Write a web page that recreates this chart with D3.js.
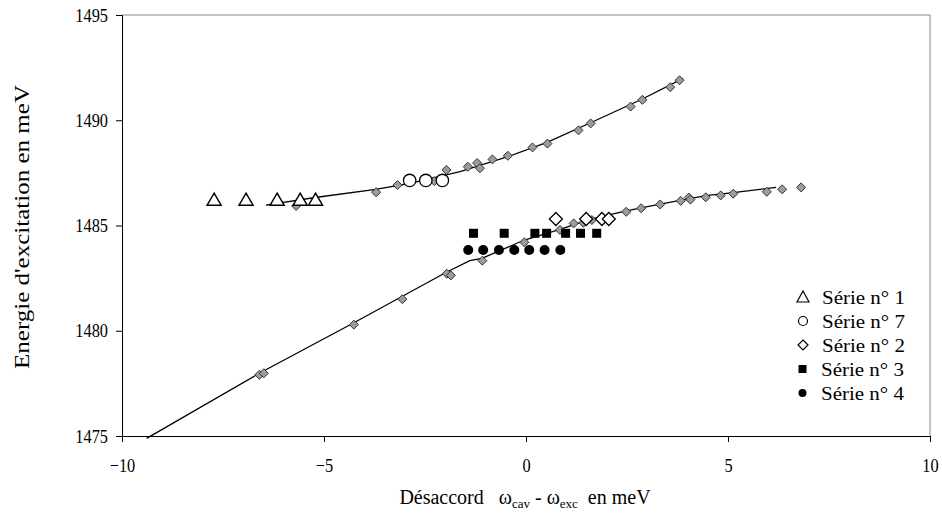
<!DOCTYPE html>
<html><head><meta charset="utf-8">
<script src="https://cdn.jsdelivr.net/npm/d3@7/dist/d3.min.js"></script>
<style>
body{margin:0;background:#fff;}
text{font-family:"Liberation Serif","Times New Roman",serif;}
</style></head>
<body><svg id="c" width="942" height="523"></svg>
<script>
// ---- data ----
const xTicks = [-10, -5, 0, 5, 10];
const yTicks = [1475, 1480, 1485, 1490, 1495];

const serie1X = [-7.72, -6.93, -6.16, -5.59, -5.21];
const serie1Y = [1486.2, 1486.2, 1486.2, 1486.2, 1486.2];

const serie7X = [-2.88, -2.48, -2.07];
const serie7Y = [1487.14, 1487.14, 1487.14];

const serie2X = [0.74, 1.49, 1.88, 2.05];
const serie2Y = [1485.31, 1485.31, 1485.31, 1485.31];

const serie3X = [-1.30, -0.54, 0.22, 0.51, 0.98, 1.35, 1.75];
const serie3Y = [1484.63, 1484.63, 1484.63, 1484.63, 1484.63, 1484.63, 1484.63];

const serie4X = [-1.43, -1.06, -0.67, -0.29, 0.08, 0.46, 0.85];
const serie4Y = [1483.84, 1483.84, 1483.84, 1483.84, 1483.84, 1483.84, 1483.84];

// gray diamonds (upper branch)
const upperPtsX = [-5.69, -3.71, -3.18, -2.27, -1.97, -1.44, -1.21, -1.14, -0.83, -0.45, 0.16, 0.53, 1.30, 1.60, 2.59, 2.88, 3.57, 3.80];
const upperPtsY = [1485.93, 1486.58, 1486.92, 1487.11, 1487.64, 1487.79, 1487.97, 1487.72, 1488.14, 1488.31, 1488.71, 1488.89, 1489.52, 1489.85, 1490.65, 1490.97, 1491.57, 1491.90];

// gray diamonds (lower branch)
const lowerPtsX = [-6.60, -6.49, -4.26, -3.06, -1.96, -1.86, -1.08, -0.04, 0.84, 1.18, 1.42, 1.63, 2.48, 2.85, 3.32, 3.83, 4.03, 4.07, 4.45, 4.82, 5.13, 5.96, 6.34, 6.81];
const lowerPtsY = [1477.91, 1477.98, 1480.29, 1481.50, 1482.71, 1482.63, 1483.33, 1484.20, 1484.79, 1485.10, 1485.13, 1485.26, 1485.65, 1485.82, 1486.00, 1486.17, 1486.33, 1486.23, 1486.34, 1486.43, 1486.51, 1486.60, 1486.72, 1486.81];

// fitted curves
const upperLineX = [-6.44, -5.22, -3.72, -2.88, -1.63, -0.45, 0.52, 1.60, 2.88, 3.89];
const upperLineY = [1485.97, 1486.33, 1486.72, 1487.00, 1487.56, 1488.27, 1488.95, 1489.88, 1491.01, 1491.99];

const lowerLineX = [-9.39, -6.60, -4.26, -1.96, -1.39, -1.09, -0.04, 0.84, 1.63, 2.48, 3.32, 4.45, 5.13, 6.19];
const lowerLineY = [1474.89, 1477.98, 1480.38, 1482.79, 1483.33, 1483.44, 1484.31, 1484.82, 1485.31, 1485.70, 1486.02, 1486.42, 1486.56, 1486.81];

const legendLabels = ["Série n° 1", "Série n° 7", "Série n° 2", "Série n° 3", "Série n° 4"];
const legendSymbols = ["triangle", "opencircle", "opendiamond", "square", "dot"];

// ---- layout ----
const FONT = "'Liberation Serif', 'Times New Roman', serif";
const L = 122, R = 930, T = 15, B = 436;
const svg = d3.select("#c");
const x = d3.scaleLinear().domain([-10, 10]).range([L, R]);
const y = d3.scaleLinear().domain([1475, 1495]).range([B, T]);
const zip = (a, b) => a.map((v, i) => [v, b[i]]);

function condense(sel, k) {
  sel.each(function () {
    const len = this.getComputedTextLength();
    d3.select(this).attr("textLength", len * k).attr("lengthAdjust", "spacingAndGlyphs");
  });
}

// frame (top & right gray)
svg.append("path").attr("d", `M${L},${T}H${R}V${B}`).attr("fill", "none").attr("stroke", "#888").attr("stroke-width", 1);

// axes
const fs = 19;
const gx = svg.append("g").attr("transform", `translate(0,${B})`)
  .call(d3.axisBottom(x).tickValues(xTicks).tickSize(6).tickPadding(16).tickFormat(d3.format("d")));
const gy = svg.append("g").attr("transform", `translate(${L},0)`)
  .call(d3.axisLeft(y).tickValues(yTicks).tickSize(6).tickPadding(8).tickFormat(d3.format("d")));
[gx, gy].forEach(g => {
  g.attr("font-family", null);
  g.select(".domain").attr("stroke", "#000");
  g.selectAll(".tick line").attr("stroke", "#000");
  g.selectAll("text").style("font-family", FONT).style("font-size", fs + "px").attr("fill", "#000");
  condense(g.selectAll("text"), 0.86);
});
gx.selectAll("text").attr("dy", "0.75em");

// lines
const line = d3.line().x(d => x(d[0])).y(d => y(d[1]));
svg.append("path").attr("d", line(zip(upperLineX, upperLineY))).attr("fill", "none").attr("stroke", "#000").attr("stroke-width", 1.3);
svg.append("path").attr("d", line(zip(lowerLineX, lowerLineY))).attr("fill", "none").attr("stroke", "#000").attr("stroke-width", 1.3);

// symbol drawing
function drawSym(g, type, cx, cy) {
  if (type === "graydiamond") {
    const s = 4.5;
    g.append("path").attr("d", `M${cx},${cy - s}L${cx + s},${cy}L${cx},${cy + s}L${cx - s},${cy}Z`)
      .attr("fill", "#9c9c9c").attr("stroke", "#333").attr("stroke-width", 1);
  } else if (type === "opendiamond") {
    const s = 6.5;
    g.append("path").attr("d", `M${cx},${cy - s}L${cx + s},${cy}L${cx},${cy + s}L${cx - s},${cy}Z`)
      .attr("fill", "#fff").attr("stroke", "#000").attr("stroke-width", 1.3);
  } else if (type === "triangle") {
    g.append("path").attr("d", `M${cx},${cy - 7}L${cx + 7},${cy + 5}L${cx - 7},${cy + 5}Z`)
      .attr("fill", "#fff").attr("stroke", "#000").attr("stroke-width", 1.5);
  } else if (type === "opencircle") {
    g.append("circle").attr("cx", cx).attr("cy", cy).attr("r", 6.2)
      .attr("fill", "#fff").attr("stroke", "#000").attr("stroke-width", 1.3);
  } else if (type === "square") {
    g.append("rect").attr("x", cx - 4.5).attr("y", cy - 4.5).attr("width", 9).attr("height", 9).attr("fill", "#000");
  } else if (type === "dot") {
    g.append("circle").attr("cx", cx).attr("cy", cy).attr("r", 5).attr("fill", "#000");
  }
}
function drawSeries(xs, ys, type) {
  const g = svg.append("g");
  xs.forEach((v, i) => drawSym(g, type, x(v), y(ys[i])));
}
drawSeries(upperPtsX, upperPtsY, "graydiamond");
drawSeries(lowerPtsX, lowerPtsY, "graydiamond");
drawSeries(serie3X, serie3Y, "square");
drawSeries(serie4X, serie4Y, "dot");
drawSeries(serie1X, serie1Y, "triangle");
drawSeries(serie7X, serie7Y, "opencircle");
drawSeries(serie2X, serie2Y, "opendiamond");

// legend
const lg = svg.append("g");
legendLabels.forEach((lab, i) => {
  const cy = 297 + i * 24;
  const g = lg.append("g");
  if (legendSymbols[i] === "triangle") {
    g.append("path").attr("d", `M803,${cy - 6}L809,${cy + 5}L797,${cy + 5}Z`).attr("fill", "#fff").attr("stroke", "#000").attr("stroke-width", 1.2);
  } else if (legendSymbols[i] === "opencircle") {
    g.append("circle").attr("cx", 803).attr("cy", cy).attr("r", 4.5).attr("fill", "#fff").attr("stroke", "#000").attr("stroke-width", 1.2);
  } else if (legendSymbols[i] === "opendiamond") {
    g.append("path").attr("d", `M803,${cy - 5}L808,${cy}L803,${cy + 5}L798,${cy}Z`).attr("fill", "#fff").attr("stroke", "#000").attr("stroke-width", 1.2);
  } else if (legendSymbols[i] === "square") {
    g.append("rect").attr("x", 798.5).attr("y", cy - 4).attr("width", 8).attr("height", 8).attr("fill", "#000");
  } else {
    g.append("circle").attr("cx", 802.5).attr("cy", cy).attr("r", 4).attr("fill", "#000");
  }
  g.append("text").attr("x", i < 3 ? 822 : 821).attr("y", cy).attr("dy", "0.35em")
    .style("font-family", FONT).style("font-size", "19px").attr("fill", "#000")
    .attr("textLength", 83).attr("lengthAdjust", "spacingAndGlyphs").text(lab);
});

// axis titles
svg.append("text").attr("transform", "translate(29,227) rotate(-90)").attr("text-anchor", "middle")
  .style("font-family", FONT).style("font-size", "22px").attr("fill", "#000")
  .attr("textLength", 284).attr("lengthAdjust", "spacingAndGlyphs").text("Energie d'excitation en meV");

const xt = svg.append("text").attr("x", 525).attr("y", 504).attr("text-anchor", "middle")
  .style("font-family", FONT).style("font-size", "20px").attr("fill", "#000").attr("xml:space", "preserve");
xt.append("tspan").text("Désaccord   ω");
xt.append("tspan").style("font-size", "13px").attr("dy", 4).text("cav");
xt.append("tspan").attr("dy", -4).text(" - ω");
xt.append("tspan").style("font-size", "13px").attr("dy", 4).text("exc");
xt.append("tspan").attr("dy", -4).text("  en meV");
</script>
</body></html>
